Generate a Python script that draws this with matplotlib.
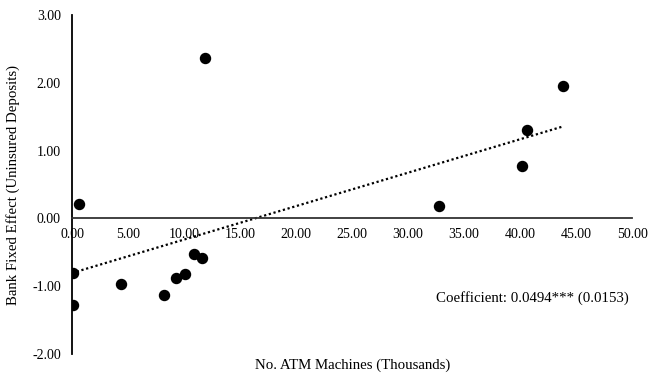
import numpy as np
import matplotlib
matplotlib.use("Agg")
from matplotlib import pyplot as plt

# ATM machines (thousands) vs bank fixed effect
atm = [0.12, 0.12, 0.6, 4.35, 8.24, 9.3, 10.1, 10.9, 11.6, 11.9,
       32.8, 40.2, 40.6, 43.8]
fixed_effect = [-0.80, -1.28, 0.22, -0.96, -1.13, -0.88, -0.82, -0.52,
                -0.59, 2.36, 0.18, 0.78, 1.30, 1.95]
x_ticks = [0, 5, 10, 15, 20, 25, 30, 35, 40, 45, 50]
y_ticks = [-2, -1, 0, 1, 2, 3]
note = "Coefficient: 0.0494*** (0.0153)"

plt.rcParams["font.family"] = ["Liberation Serif", "DejaVu Serif"]
plt.rcParams["axes.unicode_minus"] = False

fig = plt.figure(figsize=(6.62, 3.77), dpi=100)
ax = fig.add_axes([0.1088, 0.061, 0.846, 0.899])

x = np.array(atm)
y = np.array(fixed_effect)
ax.scatter(x, y, s=52, color="black", zorder=3)

# linear trendline over the data range
slope, intercept = np.polyfit(x, y, 1)
xs = np.array([0, x.max()])
ax.plot(xs, slope * xs + intercept, color="black", linestyle=(0, (1, 1.2)),
        linewidth=1.6)

ax.set_xlim(0, 50)
ax.set_ylim(-2, 3)
ax.set_xticks(x_ticks)
ax.set_yticks(y_ticks)
ax.set_xticklabels([f"{t:.2f}" for t in x_ticks])
ax.set_yticklabels([f"{t:.2f}" for t in y_ticks])
ax.tick_params(axis="both", length=0, labelsize=10)
ax.tick_params(axis="x", pad=7)
ax.tick_params(axis="y", pad=8)

ax.spines["bottom"].set_position(("data", 0))
ax.spines["top"].set_visible(False)
ax.spines["right"].set_visible(False)
ax.spines["bottom"].set_linewidth(1.3)
ax.spines["left"].set_linewidth(1.3)
ax.spines["bottom"].set_color("#333333")

ax.set_ylabel("Bank Fixed Effect (Uninsured Deposits)", fontsize=10.7, labelpad=9)
fig.text(0.532, 0.032, "No. ATM Machines (Thousands)", ha="center", va="center",
         fontsize=10.7)
ax.text(41.1, -1.18, note, ha="center", va="center", fontsize=10.7)

fig.savefig("out.png", dpi=100)
